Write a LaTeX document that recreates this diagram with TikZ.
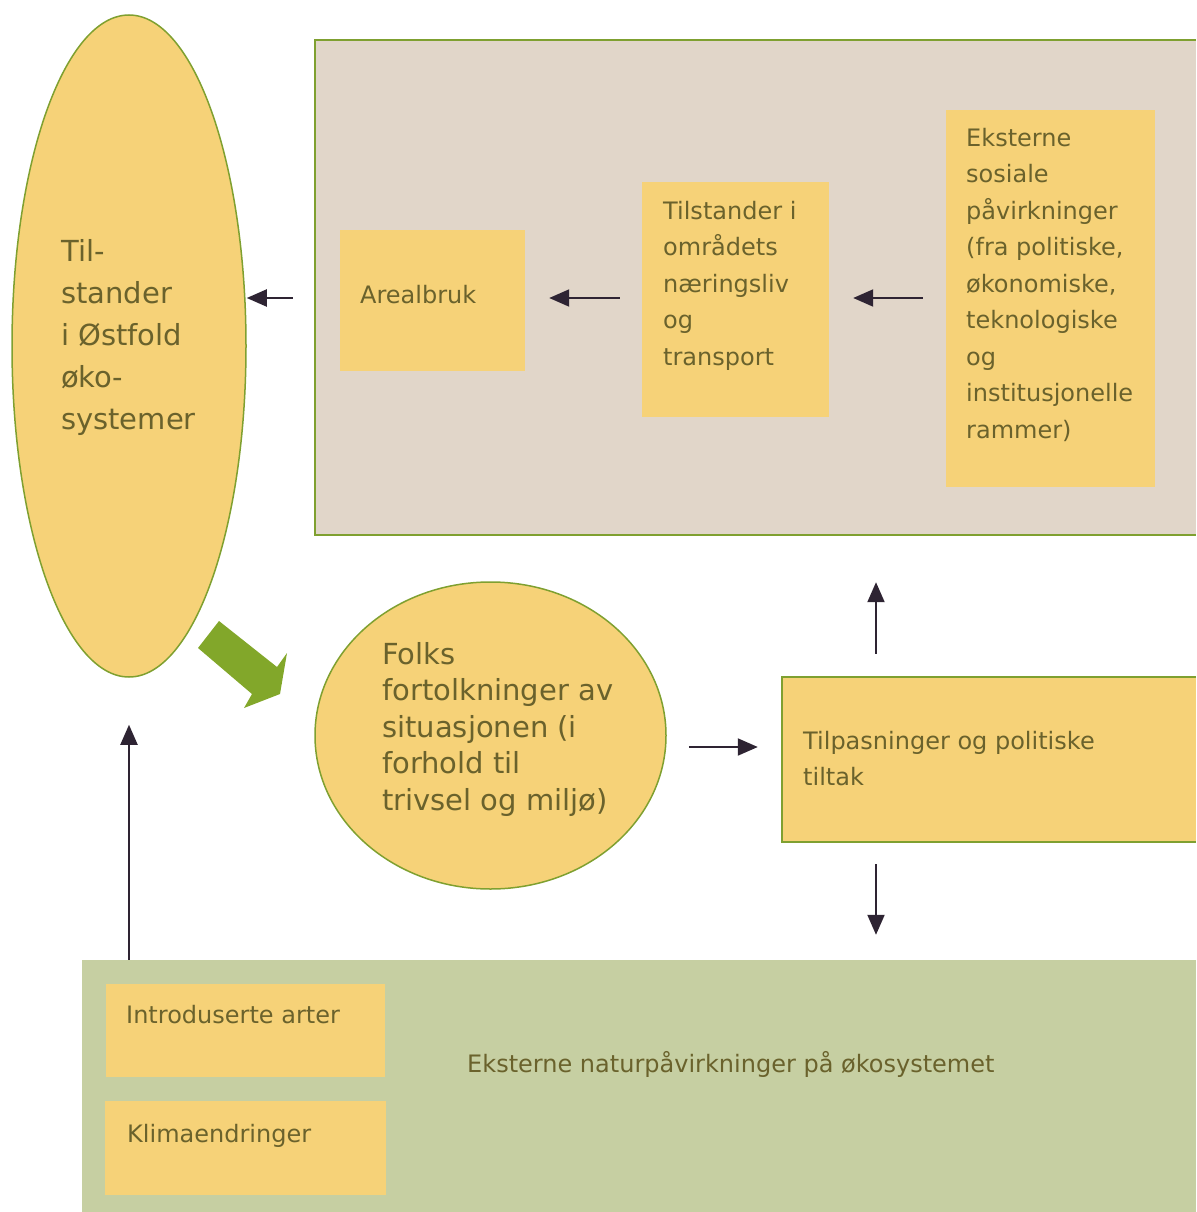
\documentclass[tikz,border=0pt]{standalone}
\usepackage{fontspec}
\setmainfont{DejaVu Sans}
\usetikzlibrary{arrows.meta,shapes.geometric}
\definecolor{yel}{RGB}{246,210,120}
\definecolor{txtc}{RGB}{106,98,44}
\definecolor{beigec}{RGB}{225,214,201}
\definecolor{natg}{RGB}{198,207,162}
\definecolor{bordc}{RGB}{127,160,48}
\definecolor{bigarr}{RGB}{130,167,42}
\definecolor{arrc}{RGB}{46,36,51}
\begin{document}
\begin{tikzpicture}[x=1pt,y=-1pt,
  ybox/.style={fill=yel, draw=none, inner sep=0pt, rectangle},
  yell/.style={fill=yel, draw=bordc, line width=1.5pt, ellipse, inner sep=0pt},
  lbl/.style={text=txtc, inner sep=0pt, align=left, font=\fontsize{24}{36.5}\selectfont},
  arr/.style={draw=arrc, line width=2pt, -{Triangle[length=20pt,width=17pt]}},
  edge/.style={draw=bordc, line width=1.5pt}]
\useasboundingbox (0,0) rectangle (1196,1212);

% background regions
\node[rectangle, fill=beigec, inner sep=0pt, minimum width=881pt, minimum height=495pt] (beige) at (755.5,287.5) {};
\draw[edge] (beige.north east) -- (beige.north west) -- (beige.south west) -- (beige.south east);
\node[rectangle, fill=natg, inner sep=0pt, minimum width=1114pt, minimum height=252pt] (nat) at (639,1086) {};

% boxes
\node[ybox, minimum width=185pt, minimum height=141pt] (areal) at (432.5,300.5) {};
\node[ybox, minimum width=187pt, minimum height=235pt] (tilst) at (735.5,299.5) {};
\node[ybox, minimum width=209pt, minimum height=377pt] (eks) at (1050.5,298.5) {};
\node[ybox, minimum width=414pt, minimum height=165pt] (tilp) at (989,759.5) {};
\draw[edge] (tilp.north east) -- (tilp.north west) -- (tilp.south west) -- (tilp.south east);
\node[ybox, minimum width=279pt, minimum height=93pt] (intro) at (245.5,1030.5) {};
\node[ybox, minimum width=281pt, minimum height=94pt] (klima) at (245.5,1148) {};

% ellipses
\node[yell, minimum width=234pt, minimum height=662pt] (eco) at (129,346) {};
\node[yell, minimum width=351pt, minimum height=307pt] (folks) at (490.5,735.5) {};

% texts
\node[lbl, anchor=north west, font=\fontsize{29}{42}\selectfont] (ecot) at (61,239)
  {Til-\\stander\\i Østfold\\øko-\\systemer};
\node[lbl, anchor=north west, font=\fontsize{29}{36.5}\selectfont] (folkst) at (382,642)
  {Folks\\fortolkninger av\\situasjonen (i\\forhold til\\trivsel og miljø)};
\node[lbl, anchor=base west] (arealt) at (360,303) {Arealbruk};
\node[lbl, anchor=north west] (tilstt) at (663,201)
  {Tilstander i\\områdets\\næringsliv\\og\\transport};
\node[lbl, anchor=north west] (ekst) at (966,128)
  {Eksterne\\sosiale\\påvirkninger\\(fra politiske,\\økonomiske,\\teknologiske\\og\\institusjonelle\\rammer)};
\node[lbl, anchor=north west] (tilpt) at (803,731)
  {Tilpasninger og politiske\\tiltak};
\node[lbl, anchor=base west] (introt) at (126,1023) {Introduserte arter};
\node[lbl, anchor=base west] (klimat) at (127,1142) {Klimaendringer};
\node[lbl, anchor=base west] (natt) at (467,1072) {Eksterne naturpåvirkninger på økosystemet};

% big green arrow
\fill[bigarr] (219,621) -- (277,667) -- (287,653) -- (280,694) -- (244,708) -- (252,694) -- (198,648) -- cycle;

% connectors
\coordinate (ra) at (0,298);
\coordinate (fa) at (0,747);
\coordinate (ux) at (876,0);
\draw[arr, shorten <=47pt] (areal.west |- ra) -- (eco.east |- ra);
\draw[arr, shorten <=22pt, shorten >=24pt] (tilst.west |- ra) -- (areal.east |- ra);
\draw[arr, shorten <=23pt, shorten >=24pt] (eks.west |- ra) -- (tilst.east |- ra);
\draw[arr, shorten <=22pt, shorten >=24pt] (folks.east |- fa) -- (tilp.west |- fa);
\draw[arr, shorten <=23pt, shorten >=47pt] (tilp.north -| ux) -- (beige.south -| ux);
\draw[arr, shorten <=22pt, shorten >=25pt] (tilp.south -| ux) -- (nat.north -| ux);
\draw[arr, shorten >=47pt] (nat.north -| eco.south) -- (eco.south);
\end{tikzpicture}
\end{document}
